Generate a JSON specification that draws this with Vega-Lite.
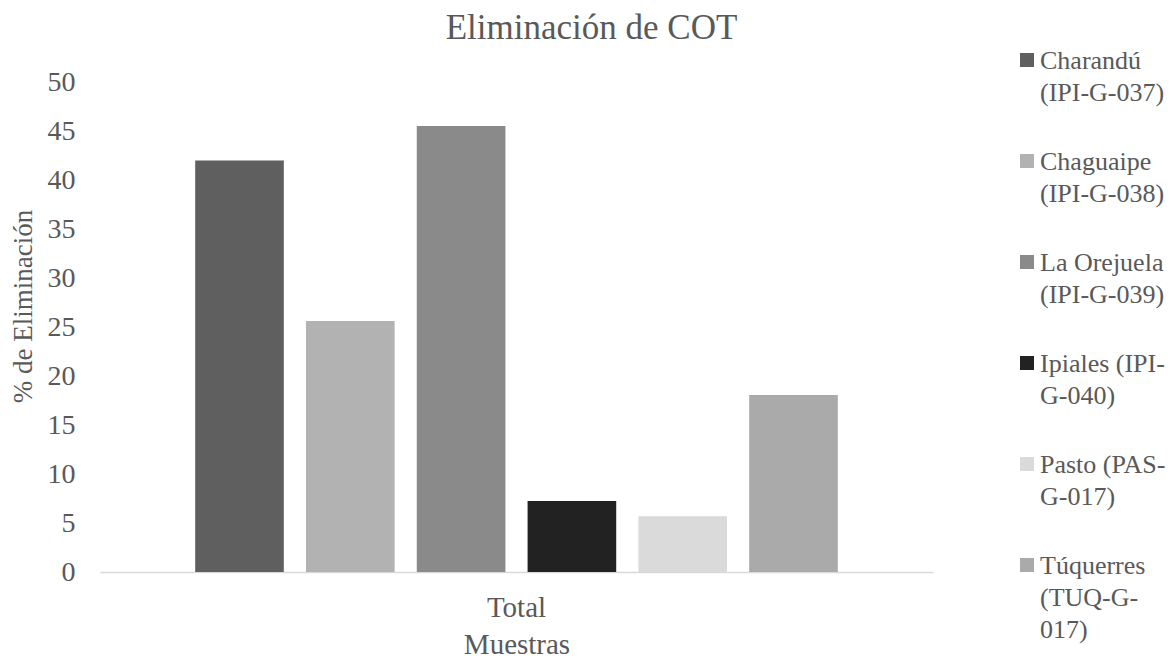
{
  "$schema": "https://vega.github.io/schema/vega-lite/v6.json",
  "width": 833,
  "height": 490,
  "autosize": {"type": "none"},
  "padding": {"left": 100, "top": 82, "right": 239, "bottom": 86},
  "background": "white",
  "title": {
    "text": "Eliminación de COT",
    "frame": "group",
    "anchor": "middle",
    "orient": "top",
    "baseline": "alphabetic",
    "offset": 13,
    "dx": 75,
    "dy": 40,
    "font": "Liberation Serif",
    "fontSize": 35,
    "fontWeight": "normal",
    "color": "#595959"
  },
  "data": {
    "values": [
      {"muestra": "Total", "sitio": "Charandú (IPI-G-037)", "eliminacion": 42.0},
      {"muestra": "Total", "sitio": "Chaguaipe (IPI-G-038)", "eliminacion": 25.6},
      {"muestra": "Total", "sitio": "La Orejuela (IPI-G-039)", "eliminacion": 45.5},
      {"muestra": "Total", "sitio": "Ipiales (IPI-G-040)", "eliminacion": 7.25},
      {"muestra": "Total", "sitio": "Pasto (PAS-G-017)", "eliminacion": 5.7},
      {"muestra": "Total", "sitio": "Túquerres (TUQ-G-017)", "eliminacion": 18.05}
    ]
  },
  "mark": {"type": "bar"},
  "encoding": {
    "x": {
      "field": "muestra",
      "type": "nominal",
      "scale": {"paddingInner": 0, "paddingOuter": 0.1265},
      "axis": {
        "title": "Muestras",
        "labelAngle": 0,
        "ticks": false,
        "domainColor": "#d9d9d9",
        "domainWidth": 1.5,
        "labelFont": "Liberation Serif",
        "labelFontSize": 29,
        "labelColor": "#595959",
        "labelBaseline": "alphabetic",
        "labelPadding": 44,
        "titleFont": "Liberation Serif",
        "titleFontSize": 29,
        "titleFontWeight": "normal",
        "titleColor": "#595959",
        "titleBaseline": "alphabetic",
        "titleY": 81
      }
    },
    "xOffset": {
      "field": "sitio",
      "type": "nominal",
      "sort": null,
      "scale": {"paddingInner": 0.2, "paddingOuter": 0.1}
    },
    "y": {
      "field": "eliminacion",
      "type": "quantitative",
      "scale": {"domain": [0, 50], "nice": false},
      "axis": {
        "title": "% de Eliminación",
        "values": [0, 5, 10, 15, 20, 25, 30, 35, 40, 45, 50],
        "domain": false,
        "ticks": false,
        "grid": false,
        "labelFont": "Liberation Serif",
        "labelFontSize": 28,
        "labelColor": "#595959",
        "labelPadding": 25,
        "titleFont": "Liberation Serif",
        "titleFontSize": 27,
        "titleFontWeight": "normal",
        "titleColor": "#595959",
        "titleAngle": -90,
        "titleAlign": "center",
        "titleBaseline": "middle",
        "titleX": -77,
        "titleY": 224
      }
    },
    "color": {
      "field": "sitio",
      "type": "nominal",
      "sort": null,
      "scale": {
        "domain": ["Charandú (IPI-G-037)", "Chaguaipe (IPI-G-038)", "La Orejuela (IPI-G-039)", "Ipiales (IPI-G-040)", "Pasto (PAS-G-017)", "Túquerres (TUQ-G-017)"],
        "range": ["#5f5f5f", "#b2b2b2", "#8a8a8a", "#222222", "#dadada", "#aaaaaa"]
      },
      "legend": {
        "title": null,
        "orient": "none",
        "legendX": 914,
        "legendY": -35,
        "symbolType": "square",
        "symbolSize": 196,
        "symbolStrokeWidth": 0,
        "symbolOpacity": 1,
        "labelFont": "Liberation Serif",
        "labelFontSize": 26,
        "labelColor": "#595959",
        "labelBaseline": "top",
        "labelOffset": 0,
        "labelLimit": 200,
        "rowPadding": 42,
        "encode": {"labels": {"update": {"dy": {"value": -12}}}},
        "labelExpr": "datum.label == 'Charandú (IPI-G-037)' ? ['Charandú', '(IPI-G-037)'] : datum.label == 'Chaguaipe (IPI-G-038)' ? ['Chaguaipe', '(IPI-G-038)'] : datum.label == 'La Orejuela (IPI-G-039)' ? ['La Orejuela', '(IPI-G-039)'] : datum.label == 'Ipiales (IPI-G-040)' ? ['Ipiales (IPI-', 'G-040)'] : datum.label == 'Pasto (PAS-G-017)' ? ['Pasto (PAS-', 'G-017)'] : ['Túquerres', '(TUQ-G-', '017)']"
      }
    }
  },
  "config": {
    "view": {"stroke": null},
    "style": {"guide-label": {"lineHeight": 32}}
  }
}
